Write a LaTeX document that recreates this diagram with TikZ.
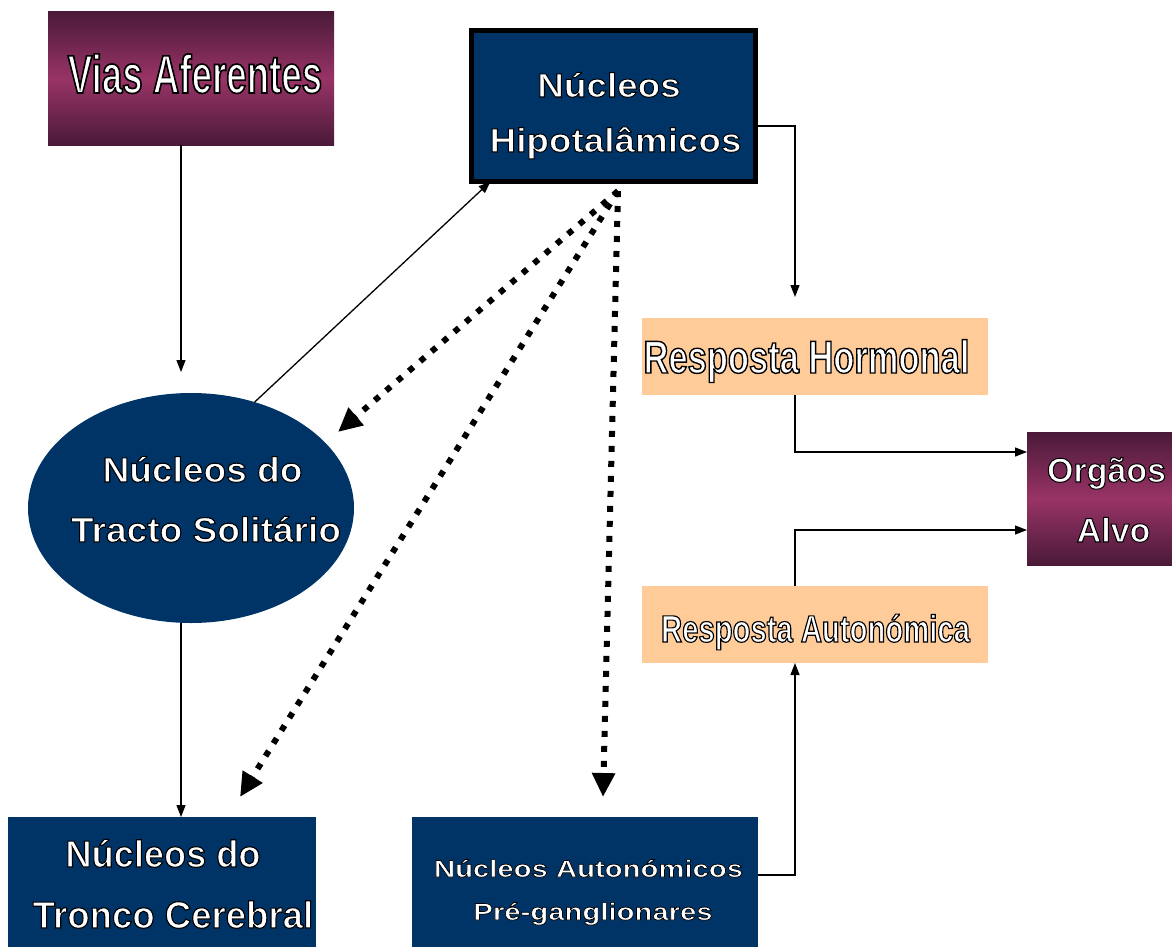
\documentclass[tikz,border=0pt]{standalone}
\usepackage{fontspec}
\setmainfont{Liberation Sans}
\usetikzlibrary{arrows.meta,shapes.geometric,calc}
\definecolor{navy}{HTML}{003366}
\definecolor{peach}{HTML}{FFCC99}
\definecolor{purpdark}{HTML}{4A1A38}
\definecolor{purpmid}{HTML}{993366}
\newcommand{\otx}[3]{{\fontsize{#1pt}{#1pt}\selectfont\addfontfeature{FakeStretch=#2,FakeBold=3}\special{pdf:literal direct 0 0 0 RG}#3}}
\tikzset{
  box/.style={rectangle, inner sep=0pt, outer sep=0pt},
  navybox/.style={box, fill=navy},
  peachbox/.style={box, fill=peach},
  purpbox/.style={box, top color=purpdark, bottom color=purpdark, middle color=purpmid},
  tx/.style={anchor=base, text=white, inner sep=0pt, font=\bfseries},
  thinarr/.style={line width=1.3pt, -{Triangle[length=12pt,width=9pt]}},
  dotarr/.style={line width=6pt, dash pattern=on 6pt off 9pt, -{Triangle[length=24pt,width=22pt]}},
}
\begin{document}
\begin{tikzpicture}[x=1pt,y=-1pt]
\useasboundingbox (0,0) rectangle (1172,947);
% boxes
\node[purpbox, minimum width=286pt, minimum height=133pt] (vias) at (191,78.5) {};
\node[navybox, draw=black, line width=5pt, minimum width=284pt, minimum height=151pt] (hipo) at (613.5,106) {};
\node[peachbox, minimum width=346pt, minimum height=77pt] (horm) at (815,356.5) {};
\node[peachbox, minimum width=346pt, minimum height=77pt] (auto) at (815,624.5) {};
\node[purpbox, minimum width=145pt, minimum height=133pt] (org) at (1099.5,498.5) {};
\node[ellipse, fill=navy, inner sep=0pt, outer sep=0pt, minimum width=326pt, minimum height=230pt] (nts) at (191,508) {};
\node[navybox, minimum width=308pt, minimum height=130pt] (tronco) at (162,882) {};
\node[navybox, minimum width=346pt, minimum height=130pt] (pre) at (585,882) {};
% texts
\node[tx] (t1) at (195,93) {\otx{54}{0.68}{Vias Aferentes}};
\node[tx] (t2) at (609,97) {\otx{33.5}{1.1}{Núcleos}};
\node[tx] (t3) at (615.5,152) {\otx{33.5}{1.1}{Hipotalâmicos}};
\node[tx] (t4) at (806.5,373) {\otx{46}{0.75}{Resposta Hormonal}};
\node[tx] (t5) at (815.5,642) {\otx{38}{0.77}{Resposta Autonómica}};
\node[tx] (t6) at (1106.5,482) {\otx{34}{1.0}{Orgãos}};
\node[tx] (t7) at (1113.5,542) {\otx{34}{1.0}{Alvo}};
\node[tx] (t8) at (202.5,482) {\otx{35}{1.06}{Núcleos do}};
\node[tx] (t9) at (206,542) {\otx{35}{1.06}{Tracto Solitário}};
\node[tx] (t10) at (163,867) {\otx{37.7}{0.96}{Núcleos do}};
\node[tx] (t11) at (173,928) {\otx{37.7}{0.97}{Tronco Cerebral}};
\node[tx] (t12) at (588.5,877) {\otx{24}{1.22}{Núcleos Autonómicos}};
\node[tx] (t13) at (593,920) {\otx{24}{1.22}{Pré-ganglionares}};
% free-end coordinates
\coordinate (c1) at (181,372);
\coordinate (c2) at (795,297);
\coordinate (xh) at (795,452);
\coordinate (xa) at (795,530);
\coordinate (xp) at (795,875);
\coordinate (hs) at (618,191);
\coordinate (d1) at (338,432);
\coordinate (d2) at (240,797);
\coordinate (d3) at (603,797);
% thin connectors
\draw[thinarr] (vias.south -| c1) -- (c1);
\draw[thinarr] (nts.south -| c1) -- (tronco.north -| c1);
\draw[thinarr] (nts.59) -- ($(hipo.south west)+(19,0)$);
\draw[thinarr] ($(hipo.east)+(0,20)$) -| (c2);
\draw[thinarr] (horm.south -| xh) -- (xh) -- (org.west |- xh);
\draw[thinarr] (auto.north -| xa) -- (xa) -- (org.west |- xa);
\draw[thinarr] (pre.east |- xp) -- (xp) -- (auto.south -| xp);
% dotted connectors
\draw[dotarr] (hs) -- (d1);
\draw[dotarr] (hs) -- (d2);
\draw[dotarr] (hs) -- (d3);
\end{tikzpicture}
\end{document}
